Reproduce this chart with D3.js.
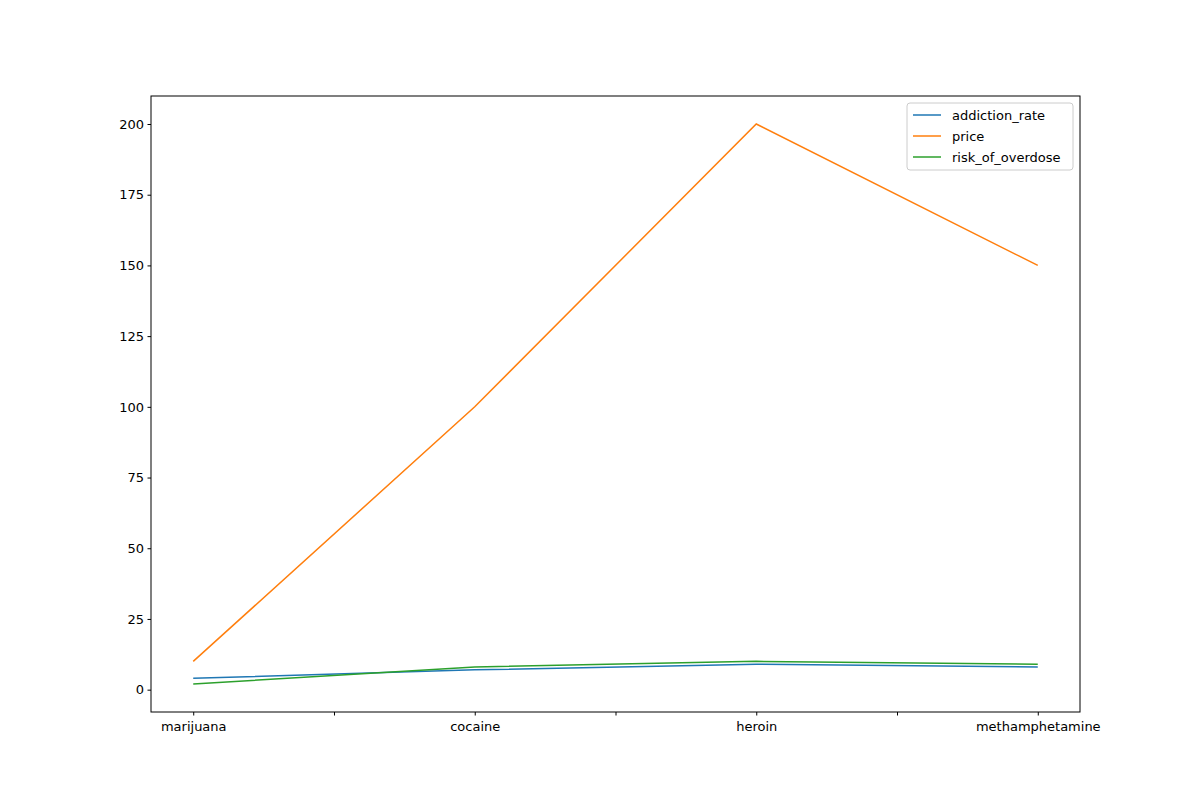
<!DOCTYPE html>
<html><head><meta charset="utf-8">
<script src="https://cdn.jsdelivr.net/npm/d3@7"></script>
<style>body{margin:0;background:#fff}text{font-family:"DejaVu Sans",sans-serif}</style>
</head><body><svg width="1200" height="800"></svg>
<script>
// data
var drugs = ["marijuana", "cocaine", "heroin", "methamphetamine"];
var addictionRate = [4, 7, 9, 8];
var price = [10, 100, 200, 150];
var riskOfOverdose = [2, 8, 10, 9];
var seriesNames = ["addiction_rate", "price", "risk_of_overdose"];
var colors = ["#1f77b4", "#ff7f0e", "#2ca02c"];
var yTicks = [0, 25, 50, 75, 100, 125, 150, 175, 200];

// plot area (avoid window.top clash)
var plotLeft = 151, plotRight = 1080, plotTop = 96, plotBottom = 712;
var svg = d3.select("svg");

var x = d3.scaleLinear().domain([-0.15, 3.15]).range([plotLeft, plotRight]);
var y = d3.scaleLinear().domain([-7.9, 209.9]).range([plotBottom, plotTop]);

var allSeries = [addictionRate, price, riskOfOverdose];
var line = d3.line().x((d, i) => x(i)).y(d => y(d));

svg.append("g").selectAll("path").data(allSeries).enter().append("path")
    .attr("d", line)
    .attr("fill", "none")
    .attr("stroke", (d, i) => colors[i])
    .attr("stroke-width", 1.5);

// axes
var xAxis = d3.axisBottom(x).tickValues(d3.range(0, 3.01, 0.5)).tickSize(3.5).tickPadding(3.5)
    .tickFormat(d => Number.isInteger(d) ? drugs[d] : "");
var gx = svg.append("g").attr("transform", "translate(0," + plotBottom + ")").call(xAxis);
var yAxis = d3.axisLeft(y).tickValues(yTicks).tickSize(3.5).tickPadding(3.5);
var gy = svg.append("g").attr("transform", "translate(" + plotLeft + ",0)").call(yAxis);
[gx, gy].forEach(g => {
    g.select(".domain").remove();
    g.selectAll("text").attr("font-size", 13).attr("fill", "#000");
    g.selectAll("line").attr("stroke", "#000");
});
gx.selectAll("text").attr("dy", "0.9em");

svg.append("rect").attr("x", plotLeft).attr("y", plotTop)
    .attr("width", plotRight - plotLeft).attr("height", plotBottom - plotTop)
    .attr("fill", "none").attr("stroke", "#000").attr("stroke-width", 1);

// legend
var lg = svg.append("g").attr("transform", "translate(907,103)");
lg.append("rect").attr("width", 166).attr("height", 67).attr("rx", 3)
    .attr("fill", "#fff").attr("stroke", "#ccc");
seriesNames.forEach((name, i) => {
    var yy = 12 + i * 21;
    lg.append("line").attr("x1", 6).attr("x2", 34).attr("y1", yy).attr("y2", yy)
        .attr("stroke", colors[i]).attr("stroke-width", 1.5);
    lg.append("text").attr("x", 45).attr("y", yy).attr("dy", "0.35em")
        .attr("font-size", 13).text(name);
});
</script></body></html>
